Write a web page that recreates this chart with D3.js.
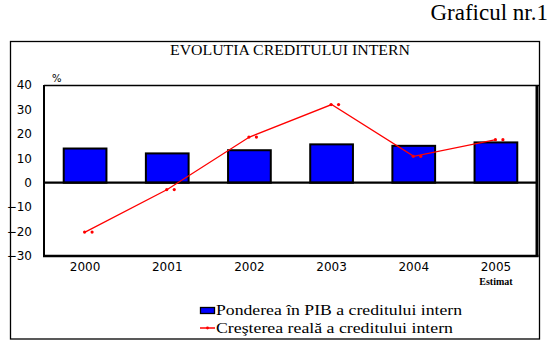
<!DOCTYPE html>
<html><head><meta charset="utf-8">
<script src="https://cdn.jsdelivr.net/npm/d3@7"></script>
<style>body{margin:0;background:#fff}svg{display:block}.sf{font-family:"Liberation Serif","DejaVu Serif",serif}</style>
</head><body>
<script>
const years = ["2000","2001","2002","2003","2004","2005"];
const shareGDP = [14, 12, 13.3, 15.7, 15.1, 16.5];
const realGrowth = [-20.2, -2.8, 18.7, 32, 10.8, 17.6];
const yTicks = [-30,-20,-10,0,10,20,30,40];

const W=549,H=346;
const svg=d3.select("body").append("svg").attr("width",W).attr("height",H);
const sans="'DejaVu Sans',Verdana,sans-serif";

svg.append("text").attr("class","sf").attr("x",548).attr("y",20).attr("text-anchor","end")
  .attr("font-size",23).text("Graficul nr.1");

// outer box
svg.append("rect").attr("x",10.5).attr("y",41.5).attr("width",529).attr("height",297.5)
  .attr("fill","none").attr("stroke","#000").attr("stroke-width",1.3);

svg.append("text").attr("class","sf").attr("x",170).attr("y",55).attr("font-size",14)
  .attr("textLength",240).attr("lengthAdjust","spacingAndGlyphs").text("EVOLUTIA CREDITULUI INTERN");

const L=44,R=537,T=85,B=256;
const x=d3.scaleBand().domain(years).range([L,R]).padding(0);
const y=d3.scaleLinear().domain([-30,40]).range([B,T]);

// plot frame
svg.append("line").attr("x1",L).attr("x2",539.5).attr("y1",T+0.5).attr("y2",T+0.5).attr("stroke","#000").attr("stroke-width",1.3);
svg.append("line").attr("x1",L).attr("x2",L).attr("y1",T).attr("y2",B).attr("stroke","#000").attr("stroke-width",2);
svg.append("line").attr("x1",R).attr("x2",R).attr("y1",T).attr("y2",B+1).attr("stroke","#000").attr("stroke-width",3);
svg.append("line").attr("x1",L-1).attr("x2",R+1.5).attr("y1",B).attr("y2",B).attr("stroke","#000").attr("stroke-width",2.5);

// y axis labels
const yAxis=d3.axisLeft(y).tickValues(yTicks).tickSize(0).tickPadding(0);
const gy=svg.append("g").attr("transform",`translate(32,0)`).call(yAxis);
gy.select(".domain").remove();
gy.selectAll("text").attr("font-family",sans).attr("font-size",12).attr("fill","#000");

svg.append("text").attr("x",52).attr("y",82).attr("font-family",sans).attr("font-size",10).text("%");

// bars
const bw=x.bandwidth()*0.52;
svg.append("g").selectAll("rect").data(years).join("rect")
  .attr("x",(d)=>x(d)+x.bandwidth()/2-bw/2)
  .attr("y",(d,i)=>y(Math.max(0,shareGDP[i])))
  .attr("width",bw)
  .attr("height",(d,i)=>Math.abs(y(shareGDP[i])-y(0)))
  .attr("fill","#0000ff").attr("stroke","#000").attr("stroke-width",2);

// zero line
svg.append("line").attr("x1",L).attr("x2",R).attr("y1",y(0)).attr("y2",y(0)).attr("stroke","#000").attr("stroke-width",2.2);

// x labels
const xAxis=d3.axisBottom(x).tickSize(0).tickPadding(0);
const gx=svg.append("g").attr("transform",`translate(0,${B+6})`).call(xAxis);
gx.select(".domain").remove();
gx.selectAll("text").attr("font-family",sans).attr("font-size",12).attr("fill","#000");
svg.append("text").attr("class","sf").attr("x",x("2005")+x.bandwidth()/2).attr("y",285).attr("text-anchor","middle")
  .attr("font-weight","bold").attr("font-size",10).text("Estimat");

// line
const cx=(d)=>x(d)+x.bandwidth()/2;
const line=d3.line().x((d)=>cx(d)).y((d,i)=>y(realGrowth[i]));
svg.append("path").datum(years).attr("d",line).attr("fill","none").attr("stroke","#ff0000").attr("stroke-width",1.3);
const mk=svg.append("g").selectAll("g").data(years).join("g")
  .attr("transform",(d,i)=>`translate(${cx(d)},${y(realGrowth[i])})`);
mk.append("circle").attr("cx",-0.5).attr("r",1.6).attr("fill","#ff0000");
mk.append("circle").attr("cx",7).attr("r",1.6).attr("fill","#ff0000");

// legend
svg.append("rect").attr("x",200.5).attr("y",307.5).attr("width",14).attr("height",6)
  .attr("fill","#0000ff").attr("stroke","#000").attr("stroke-width",1.3);
svg.append("text").attr("class","sf").attr("x",216).attr("y",314.5).attr("font-size",14)
  .attr("textLength",246).attr("lengthAdjust","spacingAndGlyphs").text("Ponderea în PIB a creditului intern");
svg.append("line").attr("x1",200).attr("x2",215).attr("y1",328).attr("y2",328).attr("stroke","#ff0000").attr("stroke-width",1.5);
svg.append("circle").attr("cx",207.5).attr("cy",328).attr("r",1.4).attr("fill","#ff0000");
svg.append("text").attr("class","sf").attr("x",216).attr("y",332.5).attr("font-size",14)
  .attr("textLength",237).attr("lengthAdjust","spacingAndGlyphs").text("Creşterea reală a creditului intern");
</script>
</body></html>
